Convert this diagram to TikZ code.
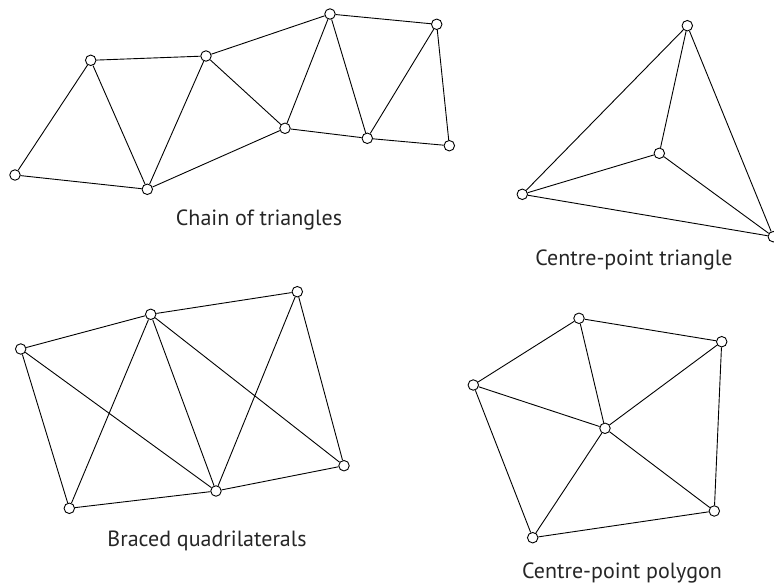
\documentclass[tikz,border=0pt]{standalone}
\usepackage{fontspec}
\setmainfont{PT Sans}
\usepackage{tikz}
\usetikzlibrary{positioning}

\begin{document}
\begin{tikzpicture}[x=1pt, y=-1pt, line width=0.9pt,
    vertex/.style={circle, draw, fill=white, inner sep=0pt, minimum size=10.5pt},
    caption/.style={anchor=base, font=\fontsize{22}{26}\selectfont, text=black!85}]
    \useasboundingbox (0,0) rectangle (774,586);

    % chain of triangles
    \node[vertex] (a1) at (15,175) {};
    \node[vertex] (a2) at (90.7,60.3) {};
    \node[vertex] (a3) at (147.3,189.3) {};
    \node[vertex] (a4) at (206,56) {};
    \node[vertex] (a5) at (285,128.3) {};
    \node[vertex] (a6) at (330,14) {};
    \node[vertex] (a7) at (367.3,138.3) {};
    \node[vertex] (a8) at (436.7,24.3) {};
    \node[vertex] (a9) at (449.3,145.7) {};
    \node[caption] (chain) at (259,225) {Chain of triangles};

    \draw (a1) -- (a2) (a1) -- (a3) (a2) -- (a3) (a2) -- (a4) (a3) -- (a4);
    \draw (a3) -- (a5) (a4) -- (a5) (a4) -- (a6) (a5) -- (a6) (a5) -- (a7);
    \draw (a6) -- (a7) (a6) -- (a8) (a7) -- (a8) (a7) -- (a9) (a8) -- (a9);

    % centre-point triangle
    \node[vertex] (b1) at (687.3,25.7) {};
    \node[vertex] (b2) at (659.3,153.3) {};
    \node[vertex] (b3) at (522.3,194.3) {};
    \node[vertex] (b4) at (773.3,236.7) {};
    \node[caption] (tri) at (634,265) {Centre-point triangle};

    \draw (b1) -- (b3) -- (b4) -- (b1);
    \draw (b2) -- (b1) (b2) -- (b3) (b2) -- (b4);

    % braced quadrilaterals
    \node[vertex] (c1) at (20.7,349) {};
    \node[vertex] (c2) at (150.7,314.3) {};
    \node[vertex] (c3) at (297.3,291.7) {};
    \node[vertex] (c4) at (69.3,508.3) {};
    \node[vertex] (c5) at (216,491) {};
    \node[vertex] (c6) at (344,465.7) {};
    \node[caption] (quad) at (207,546) {Braced quadrilaterals};

    \draw (c1) -- (c2) -- (c3) -- (c6) -- (c5) -- (c4) -- (c1);
    \draw (c1) -- (c5) (c2) -- (c4) (c2) -- (c5) (c2) -- (c6) (c3) -- (c5);

    % centre-point polygon
    \node[vertex] (d1) at (579,318.3) {};
    \node[vertex] (d2) at (721.7,341.7) {};
    \node[vertex] (d3) at (473.3,385) {};
    \node[vertex] (d4) at (605,428.3) {};
    \node[vertex] (d5) at (714.3,511) {};
    \node[vertex] (d6) at (532.7,537.7) {};
    \node[caption] (poly) at (622,578) {Centre-point polygon};

    \draw (d1) -- (d2) -- (d5) -- (d6) -- (d3) -- (d1);
    \foreach \v in {d1,d2,d3,d5,d6}
        \draw (d4) -- (\v);
\end{tikzpicture}
\end{document}
